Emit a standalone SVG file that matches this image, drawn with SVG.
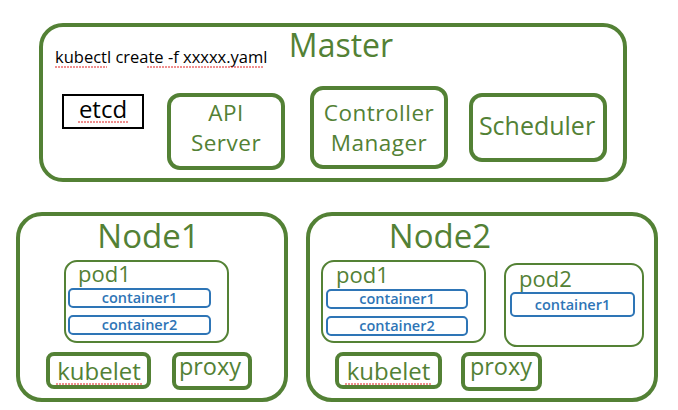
<svg xmlns="http://www.w3.org/2000/svg" width="678" height="410" viewBox="0 0 678 410">
<style>
.big{fill:#fff;stroke:#538135;stroke-width:4}
.comp{fill:#fff;stroke:#538135;stroke-width:4}
.pod{fill:#fff;stroke:#548235;stroke-width:2}
.ctr{fill:#fff;stroke:#2E75B6;stroke-width:2}
.gt{font-family:"Open Sans","Liberation Sans",sans-serif;fill:#538135;text-anchor:middle}
.two{font-size:22.5px;letter-spacing:0.5px}
.pt{font-family:"Open Sans","Liberation Sans",sans-serif;fill:#538135;text-anchor:start;font-size:22px}
.ct{font-family:"Open Sans","Liberation Sans",sans-serif;fill:#2E75B6;font-size:14.5px;font-weight:600;text-anchor:middle}
.bt{font-family:"Open Sans","Liberation Sans",sans-serif;fill:#000}
.sq{fill:none;stroke:#E02020;stroke-width:1;stroke-dasharray:2 1}
</style>
<rect width="678" height="410" fill="#fff"/>
<g id="master">
<rect class="big" x="41" y="25" width="584" height="155" rx="22"/>
<text class="gt" x="341" y="57" font-size="32">Master</text>
<text class="bt" x="55" y="63" font-size="16.5">kubectl create -f xxxxx.yaml</text>
<path class="sq" d="M55 67h52M147 67h117"/>
</g>
<g id="etcd">
<rect x="63" y="95" width="80" height="33" fill="#fff" stroke="#000" stroke-width="2"/>
<text class="bt" x="103" y="118" font-size="24" text-anchor="middle">etcd</text>
<path class="sq" d="M78 122h50"/>
</g>
<g id="apiserver">
<rect class="comp" x="169" y="95" width="114" height="73" rx="11"/>
<text class="gt two" x="226" y="120.5">API</text>
<text class="gt two" x="226" y="151">Server</text>
</g>
<g id="controller">
<rect class="comp" x="312" y="88" width="134" height="79" rx="11"/>
<text class="gt two" x="379" y="120.5">Controller</text>
<text class="gt two" x="379" y="151">Manager</text>
</g>
<g id="scheduler">
<rect class="comp" x="471" y="95" width="134" height="65" rx="11"/>
<text class="gt" x="537" y="135" font-size="25">Scheduler</text>
</g>
<g id="node1">
<rect class="big" x="18" y="214" width="268" height="186" rx="24"/>
<text class="gt" x="148.5" y="248" font-size="33">Node1</text>
</g>
<g id="node1-pod1">
<rect class="pod" x="65" y="261" width="163" height="81" rx="12"/>
<text class="pt" x="78" y="282">pod1</text>
</g>
<g id="node1-pod1-c1">
<rect class="ctr" x="69" y="289" width="141" height="18" rx="4"/>
<text class="ct" x="139.5" y="303">container1</text>
</g>
<g id="node1-pod1-c2">
<rect class="ctr" x="69" y="316" width="141" height="18" rx="4"/>
<text class="ct" x="139.5" y="330">container2</text>
</g>
<g id="node1-kubelet">
<rect class="comp" x="48" y="354" width="101" height="33" rx="6"/>
<text class="gt" x="99" y="380" font-size="24">kubelet</text>
<path class="sq" d="M56 384h86"/>
</g>
<g id="node1-proxy">
<rect class="comp" x="174" y="354" width="76" height="34" rx="6"/>
<text class="gt" x="210" y="375" font-size="23.5">proxy</text>
</g>
<g id="node2">
<rect class="big" x="308" y="214" width="348" height="186" rx="24"/>
<text class="gt" x="440" y="248" font-size="33">Node2</text>
</g>
<g id="node2-pod1">
<rect class="pod" x="322" y="261" width="163" height="81" rx="12"/>
<text class="pt" x="336" y="283">pod1</text>
</g>
<g id="node2-pod1-c1">
<rect class="ctr" x="327" y="290" width="140" height="18" rx="4"/>
<text class="ct" x="397" y="304">container1</text>
</g>
<g id="node2-pod1-c2">
<rect class="ctr" x="327" y="317" width="140" height="18" rx="4"/>
<text class="ct" x="397" y="331">container2</text>
</g>
<g id="node2-pod2">
<rect class="pod" x="505" y="264" width="138" height="82" rx="12"/>
<text class="pt" x="519" y="287">pod2</text>
</g>
<g id="node2-pod2-c1">
<rect class="ctr" x="511" y="293" width="123" height="23" rx="4"/>
<text class="ct" x="572.5" y="309.5">container1</text>
</g>
<g id="node2-kubelet">
<rect class="comp" x="337" y="354" width="103" height="33" rx="6"/>
<text class="gt" x="388.5" y="380" font-size="24">kubelet</text>
<path class="sq" d="M345 384h86"/>
</g>
<g id="node2-proxy">
<rect class="comp" x="463" y="354" width="77" height="35" rx="6"/>
<text class="gt" x="501" y="375" font-size="23.5">proxy</text>
</g>
<g id="connectors"></g>
</svg>
